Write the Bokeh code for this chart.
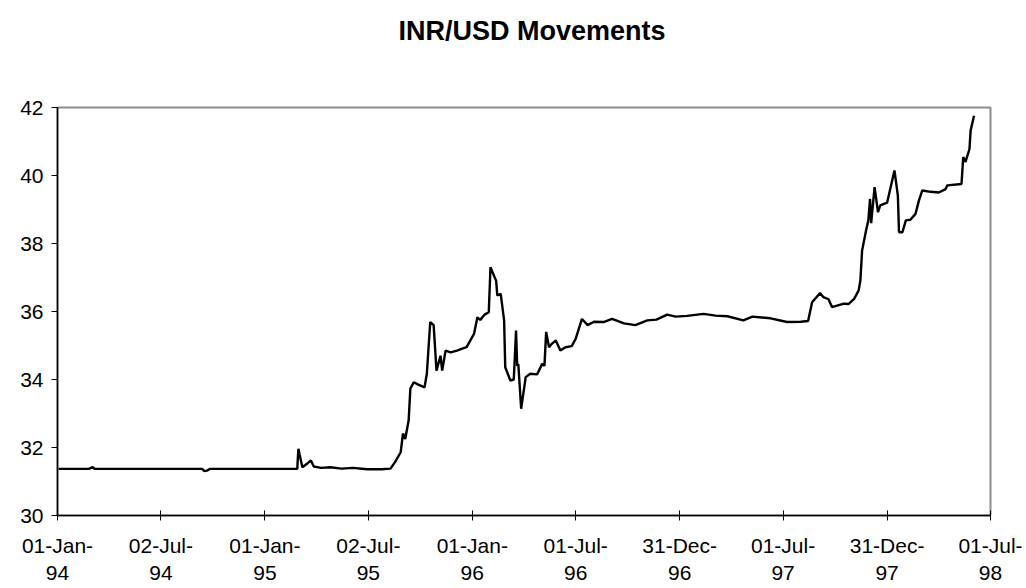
import pandas as pd
from bokeh.plotting import figure
from bokeh.models import Range1d, FixedTicker, Div
from bokeh.layouts import column
from bokeh.embed import file_html
from bokeh.resources import INLINE

# ---- data ----
dates = [
    "1994-01-03", "1994-02-25", "1994-03-04", "1994-03-08", "1994-09-13", "1994-09-16",
    "1994-09-21", "1994-09-26", "1995-02-24", "1995-02-27", "1995-02-28", "1995-03-01",
    "1995-03-03", "1995-03-08", "1995-03-16", "1995-03-23", "1995-03-28", "1995-04-10",
    "1995-04-26", "1995-05-16", "1995-06-05", "1995-06-30", "1995-07-25", "1995-08-10",
    "1995-08-18", "1995-08-28", "1995-09-01", "1995-09-05", "1995-09-11", "1995-09-14",
    "1995-09-20", "1995-09-28", "1995-10-09", "1995-10-13", "1995-10-19", "1995-10-25",
    "1995-10-30", "1995-11-06", "1995-11-09", "1995-11-15", "1995-11-24", "1995-12-05",
    "1995-12-13", "1995-12-22", "1996-01-04", "1996-01-10", "1996-01-15", "1996-01-22",
    "1996-01-30", "1996-02-02", "1996-02-12", "1996-02-14", "1996-02-20", "1996-02-26",
    "1996-02-28", "1996-03-08", "1996-03-14", "1996-03-18", "1996-03-20", "1996-03-22",
    "1996-03-27", "1996-04-04", "1996-04-12", "1996-04-24", "1996-05-03", "1996-05-07",
    "1996-05-10", "1996-05-15", "1996-05-20", "1996-05-27", "1996-06-04", "1996-06-13",
    "1996-06-24", "1996-07-01", "1996-07-12", "1996-07-22", "1996-08-02", "1996-08-19",
    "1996-09-03", "1996-09-24", "1996-10-14", "1996-11-04", "1996-11-20", "1996-12-09",
    "1996-12-24", "1997-01-13", "1997-02-11", "1997-03-04", "1997-03-25", "1997-04-22",
    "1997-05-08", "1997-06-09", "1997-07-08", "1997-08-01", "1997-08-14", "1997-08-21",
    "1997-09-04", "1997-09-10", "1997-09-19", "1997-09-25", "1997-10-16", "1997-10-24",
    "1997-11-03", "1997-11-11", "1997-11-14", "1997-11-17", "1997-11-24", "1997-11-28",
    "1997-12-01", "1997-12-03", "1997-12-09", "1997-12-15", "1997-12-19", "1997-12-31",
    "1998-01-13", "1998-01-19", "1998-01-21", "1998-01-27", "1998-02-02", "1998-02-10",
    "1998-02-19", "1998-02-25", "1998-03-03", "1998-03-18", "1998-04-01", "1998-04-13",
    "1998-04-16", "1998-05-11", "1998-05-14", "1998-05-18", "1998-05-25", "1998-05-27",
    "1998-06-02",
]
inr = [
    31.37, 31.37, 31.42, 31.37, 31.37, 31.31,
    31.32, 31.37, 31.37, 31.37, 31.70, 31.96,
    31.80, 31.42, 31.52, 31.62, 31.44, 31.40,
    31.42, 31.38, 31.40, 31.36, 31.36, 31.38,
    31.57, 31.86, 32.41, 32.25, 32.80, 33.73,
    33.92, 33.85, 33.77, 34.17, 35.69, 35.60,
    34.26, 34.70, 34.26, 34.85, 34.80, 34.85,
    34.90, 34.95, 35.34, 35.83, 35.75, 35.90,
    35.98, 37.30, 36.90, 36.47, 36.52, 35.74,
    34.36, 33.97, 34.00, 35.44, 34.40, 34.45,
    33.14, 34.07, 34.17, 34.15, 34.46, 34.40,
    35.40, 34.95, 35.05, 35.15, 34.85, 34.95,
    34.98, 35.20, 35.78, 35.60, 35.70, 35.69,
    35.78, 35.65, 35.60, 35.74, 35.76, 35.91,
    35.85, 35.87, 35.93, 35.88, 35.86, 35.74,
    35.85, 35.80, 35.69, 35.70, 35.72, 36.27,
    36.54, 36.42, 36.36, 36.13, 36.23, 36.22,
    36.37, 36.62, 36.91, 37.79, 38.38, 38.68,
    39.31, 38.60, 39.66, 38.92, 39.12, 39.20,
    40.15, 39.40, 38.33, 38.33, 38.68, 38.70,
    38.87, 39.26, 39.56, 39.52, 39.50, 39.60,
    39.71, 39.75, 40.54, 40.40, 40.78, 41.32,
    41.76,
]
tick_dates = ["1994-01-01", "1994-07-02", "1995-01-01", "1995-07-02", "1996-01-01",
              "1996-07-01", "1996-12-31", "1997-07-01", "1997-12-31", "1998-07-01"]
tick_labels = ["01-Jan-\n94", "02-Jul-\n94", "01-Jan-\n95", "02-Jul-\n95", "01-Jan-\n96",
               "01-Jul-\n96", "31-Dec-\n96", "01-Jul-\n97", "31-Dec-\n97", "01-Jul-\n98"]
y_ticks = [30, 32, 34, 36, 38, 40, 42]
title_text = "INR/USD Movements"

origin = pd.Timestamp(tick_dates[0])
xs = [(pd.Timestamp(d) - origin).days for d in dates]
tx = [(pd.Timestamp(d) - origin).days for d in tick_dates]

FONT = "Liberation Sans"
TITLE_H = 62

title = Div(text=title_text, width=1026, height=TITLE_H, margin=0,
            styles={"font-family": FONT, "font-weight": "bold", "font-size": "27px",
                    "color": "black", "text-align": "center", "line-height": f"{TITLE_H}px",
                    "padding-left": "38px", "box-sizing": "border-box"})

p = figure(width=1026, height=588 - TITLE_H, output_backend="svg", toolbar_location=None,
           x_range=Range1d(tx[0], tx[-1]), y_range=Range1d(y_ticks[0], y_ticks[-1]),
           min_border_left=57, min_border_right=36, min_border_top=107 - TITLE_H,
           min_border_bottom=73, margin=0)

p.background_fill_color = "white"
p.border_fill_color = "white"
p.outline_line_color = "#8c8c8c"
p.outline_line_width = 2
p.xgrid.visible = False
p.ygrid.visible = False

p.line(xs, inr, line_color="black", line_width=2.4)

# x axis
p.xaxis.ticker = FixedTicker(ticks=tx)
p.xaxis.major_label_overrides = {t: lab for t, lab in zip(tx, tick_labels)}
p.xaxis.major_tick_in = 5
p.xaxis.major_tick_out = 5
p.xaxis.minor_tick_line_color = None
p.xaxis.major_label_standoff = 13
# y axis
p.yaxis.ticker = FixedTicker(ticks=y_ticks)
p.yaxis.major_tick_in = 0
p.yaxis.major_tick_out = 6
p.yaxis.minor_tick_line_color = None
p.yaxis.major_label_standoff = 8

for ax in (p.xaxis, p.yaxis):
    ax.axis_line_color = "black"
    ax.axis_line_width = 1.5
    ax.major_tick_line_color = "black"
    ax.major_tick_line_width = 1
    ax.major_label_text_font = FONT
    ax.major_label_text_font_size = "21px"
    ax.major_label_text_color = "black"

layout = column(title, p, spacing=0, margin=0)

open("out.html", "w").write(file_html(layout, INLINE))
